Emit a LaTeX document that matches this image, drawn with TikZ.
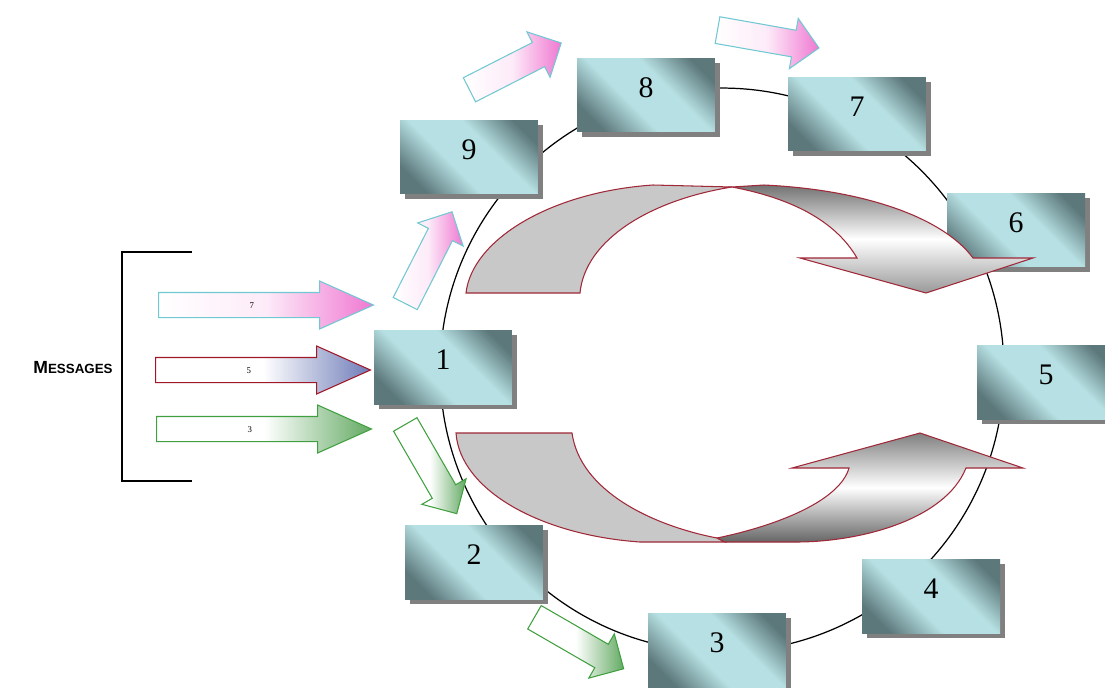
\documentclass[tikz,border=0pt]{standalone}
\usepackage{fontspec}
\setmainfont{Liberation Serif}
\newfontfamily\msgfont{Liberation Sans}
\usetikzlibrary{shapes.arrows, shadows, positioning}

\definecolor{boxlight}{RGB}{182,224,227}
\definecolor{boxdark}{RGB}{92,120,123}
\definecolor{boxshadow}{RGB}{128,128,128}
\definecolor{bandred}{RGB}{160,40,56}
\definecolor{bandgray}{RGB}{200,200,200}
\definecolor{pinkline}{RGB}{112,200,210}
\definecolor{pinkfill}{RGB}{240,120,210}
\definecolor{redline}{RGB}{160,24,40}
\definecolor{bluefill}{RGB}{110,124,184}
\definecolor{greenline}{RGB}{64,160,64}
\definecolor{greenfill}{RGB}{100,170,100}

\pgfdeclareverticalshading{boxshade}{100bp}{color(0bp)=(boxdark); color(24bp)=(boxdark); color(42bp)=(boxlight); color(60bp)=(boxlight); color(77bp)=(boxdark); color(100bp)=(boxdark)}

\tikzset{
  stepbox/.style={shade, shading=boxshade, shading angle=-45,
    minimum width=2.76cm, minimum height=1.48cm, inner sep=0pt,
    drop shadow={shadow xshift=0.1cm, shadow yshift=-0.1cm, fill=boxshadow, opacity=1},
    font=\fontsize{17}{17}\selectfont, text height=0.42cm, text depth=0.32cm},
  msgarrow/.style={single arrow, single arrow head extend=0.23cm, single arrow tip angle=48,
    minimum height=4.3cm, inner xsep=0pt, inner ysep=0.18cm, text height=0.12cm, text depth=0cm,
    font=\tiny, line width=0.6pt, anchor=tail},
  hoparrow/.style={single arrow, single arrow head extend=0.24cm,
    minimum height=2.06cm, inner xsep=0pt, inner ysep=0.26cm, text height=0cm, text depth=0cm,
    line width=0.6pt, anchor=tail},
  pinkarrow/.style={draw=pinkline, left color=white, right color=pinkfill, middle color=pinkfill!15},
  redarrow/.style={draw=redline, left color=white, right color=bluefill, middle color=white},
  greenarrow/.style={draw=greenline, left color=white, right color=greenfill, middle color=white},
  bandback/.style={draw=bandred, fill=bandgray, line width=0.6pt},
  bandfront/.style={draw=bandred, line width=0.6pt}
}

\begin{document}
\begin{tikzpicture}[x=0.02cm, y=-0.02cm]
\useasboundingbox (0,0) rectangle (1105,687);

\coordinate (ring) at (722,370);
\draw[line width=0.7pt] (ring) circle [radius=5.64cm];

\node[stepbox] (b1) at (443,367) {1};
\node[stepbox] (b2) at (474,562) {2};
\node[stepbox] (b3) at (717,650) {3};
\node[stepbox] (b4) at (931,596) {4};
\node[stepbox] (b5) at (1046,382) {5};
\node[stepbox] (b6) at (1016,230) {6};
\node[stepbox] (b7) at (857,114) {7};
\node[stepbox] (b8) at (646,95) {8};
\node[stepbox] (b9) at (469,157) {9};

\filldraw[bandback] (466,293) .. controls (472,240) and (550,192) .. (653,185) -- (732,187)
  .. controls (650,200) and (585,240) .. (580,293) -- cycle;
\shadedraw[bandfront, top color=black!55, bottom color=black!40, middle color=white] (732,187) -- (764,185)
  .. controls (870,190) and (945,220) .. (973,258) -- (1033,258) -- (926,293) -- (800,258) -- (857,258)
  .. controls (835,220) and (790,198) .. (732,187) -- cycle;

\filldraw[bandback] (456,433) -- (572,433) .. controls (580,490) and (650,525) .. (717,538)
  -- (725,542) -- (640,542) .. controls (540,535) and (460,490) .. (456,433) -- cycle;
\shadedraw[bandfront, top color=black!50, bottom color=black!60, middle color=white] (717,538)
  .. controls (780,525) and (840,500) .. (849,468) -- (792,468) -- (920,433) -- (1023,468) -- (966,468)
  .. controls (945,520) and (860,542) .. (796,542) -- (725,542) -- cycle;

\node[msgarrow, pinkarrow] (m7) at (158,305) {7};
\node[msgarrow, redarrow] (m5) at (155,370) {5};
\node[msgarrow, greenarrow] (m3) at (156,429) {3};

\node[hoparrow, pinkarrow, rotate=63] (h19) at (405,304) {};
\node[hoparrow, pinkarrow, rotate=27] (h98) at (469,90) {};
\node[hoparrow, pinkarrow, rotate=-10] (h87) at (717,30) {};
\node[hoparrow, greenarrow, rotate=-60] (h12) at (405,424) {};
\node[hoparrow, greenarrow, rotate=-30] (h23) at (534,617) {};

\draw[line width=1.2pt] (192,252) -- (122,252) -- (122,481) -- (192,481);
\node[font=\msgfont\bfseries] (msg) at (73,368) {{\fontsize{10}{12}\selectfont M}{\fontsize{7.6}{9}\selectfont ESSAGES}};
\end{tikzpicture}
\end{document}
